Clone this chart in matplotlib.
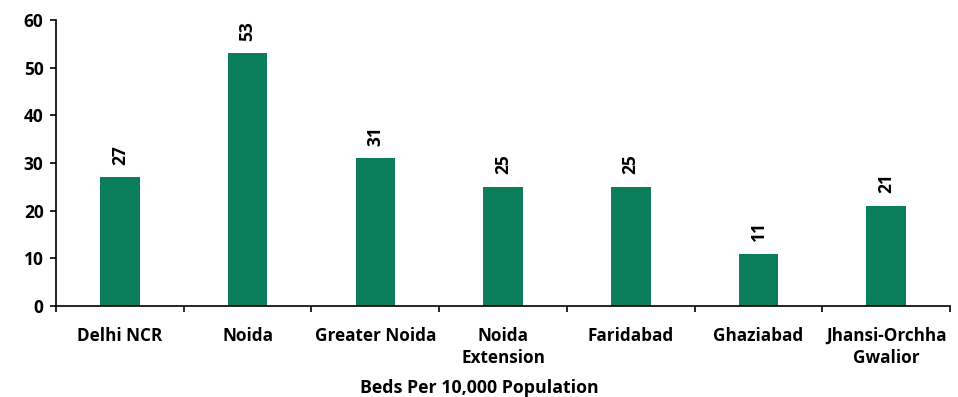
import matplotlib
matplotlib.use("Agg")
import matplotlib.pyplot as plt
import numpy as np

cities = ["Delhi NCR", "Noida", "Greater Noida", "Noida\nExtension",
          "Faridabad", "Ghaziabad", "Jhansi-Orchha\nGwalior"]
beds = [27, 53, 31, 25, 25, 11, 21]
y_ticks = [0, 10, 20, 30, 40, 50, 60]

plt.rcParams["font.family"] = ["Open Sans", "DejaVu Sans"]
plt.rcParams["font.weight"] = "bold"

fig = plt.figure(figsize=(9.58, 3.97), dpi=100)
ax = fig.add_axes([0.0585, 0.229, 0.9332, 0.7206])

x = np.arange(len(cities))
bar_color = "#0a7d5a"
ax.bar(x, beds, width=0.31, color=bar_color)

for xi, v in zip(x, beds):
    ax.annotate(str(v), (xi, v), xytext=(0, 9), textcoords="offset points",
                rotation=90, ha="center", va="bottom",
                fontsize=12.5, fontweight="bold", color="black")

ax.set_xlim(-0.5, len(cities) - 0.5)
ax.set_ylim(0, 60)
ax.set_yticks(y_ticks)
ax.set_yticklabels([str(t) for t in y_ticks], fontsize=12.5, fontweight="bold")

ax.set_xticks(x)
ax.set_xticklabels(cities, fontsize=12.3, fontweight="bold", linespacing=1.3)
ax.set_xticks(np.arange(-0.5, len(cities)), minor=True)
ax.tick_params(axis="x", which="major", length=0, pad=15)
ax.tick_params(axis="x", which="minor", length=4, width=1.2, direction="out")
ax.tick_params(axis="y", length=4, width=1.2, direction="out", pad=5)

for side in ["top", "right"]:
    ax.spines[side].set_visible(False)
for side in ["left", "bottom"]:
    ax.spines[side].set_linewidth(1.2)
    ax.spines[side].set_color("black")

ax.set_xlabel("Beds Per 10,000 Population", fontsize=12.8, fontweight="bold")
ax.xaxis.set_label_coords(0.473, -0.255)

fig.savefig("out.png", dpi=100)
